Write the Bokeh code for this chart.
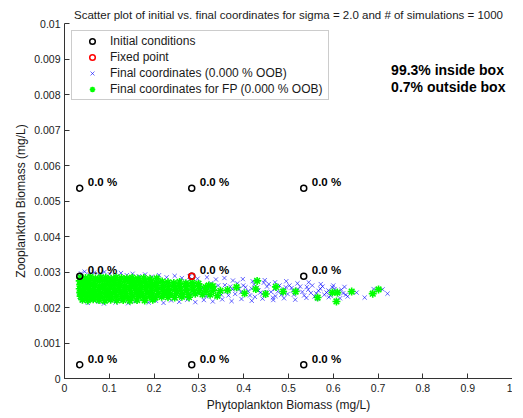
from bokeh.plotting import figure
from bokeh.models import FixedTicker, Legend, LegendItem
from bokeh.core.properties import value
from bokeh.embed import file_html
from bokeh.resources import INLINE

FONT = "Liberation Sans"

title_text = "Scatter plot of initial vs. final coordinates for sigma = 2.0 and # of simulations = 1000"
x_label = "Phytoplankton Biomass (mg/L)"
y_label = "Zooplankton Biomass (mg/L)"

x_ticks = [0, 0.1, 0.2, 0.3, 0.4, 0.5, 0.6, 0.7, 0.8, 0.9, 1]
x_tick_labels = ["0", "0.1", "0.2", "0.3", "0.4", "0.5", "0.6", "0.7", "0.8", "0.9", "1"]
y_ticks = [0, 0.001, 0.002, 0.003, 0.004, 0.005, 0.006, 0.007, 0.008, 0.009, 0.01]
y_tick_labels = ["0", "0.001", "0.002", "0.003", "0.004", "0.005", "0.006", "0.007", "0.008", "0.009", "0.01"]

# initial conditions (3x3 grid of starting points)
init_x = [0.034, 0.284, 0.534, 0.034, 0.284, 0.534, 0.034, 0.284, 0.534]
init_y = [0.00039, 0.00039, 0.00039, 0.00288, 0.00288, 0.00288, 0.00536, 0.00536, 0.00536]
init_pct = ["0.0 %"] * 9

# fixed point
fixed_x = [0.284]
fixed_y = [0.00288]

# final coordinates (blue x)
final_x = [
    0.037, 0.045, 0.055, 0.066, 0.078, 0.089, 0.101, 0.113, 0.126, 0.139, 0.152, 0.166, 0.180, 0.195, 0.211, 0.228,
    0.246, 0.262, 0.279, 0.297, 0.318, 0.338, 0.357, 0.376, 0.398, 0.420, 0.447, 0.470, 0.495, 0.520, 0.545, 0.572,
    0.600, 0.625,
    0.040, 0.052, 0.064, 0.076, 0.088, 0.100, 0.114, 0.128, 0.142, 0.157, 0.172, 0.188, 0.204, 0.221, 0.238, 0.256,
    0.274, 0.292, 0.311, 0.331, 0.352, 0.373, 0.395, 0.418, 0.442, 0.466, 0.490, 0.515, 0.540, 0.565, 0.590, 0.615,
    0.185, 0.198, 0.212, 0.224, 0.236, 0.249, 0.261, 0.273, 0.284, 0.296, 0.305, 0.316, 0.327, 0.336, 0.347, 0.358,
    0.366, 0.375, 0.386, 0.394, 0.404, 0.414, 0.423, 0.433, 0.442, 0.452, 0.461, 0.471, 0.480, 0.489, 0.498, 0.507,
    0.516, 0.526, 0.535, 0.544, 0.553, 0.562, 0.571, 0.580, 0.589, 0.598, 0.607, 0.618, 0.628, 0.640,
    0.652, 0.670, 0.690, 0.710, 0.721, 0.632,
    0.258, 0.270, 0.290, 0.310, 0.330, 0.350, 0.370, 0.390, 0.410, 0.430, 0.450, 0.470, 0.490, 0.510,
    0.034, 0.033, 0.035, 0.034,
    0.283, 0.301, 0.322, 0.343, 0.361, 0.381, 0.399, 0.418, 0.437, 0.456, 0.476, 0.494, 0.512, 0.521, 0.531, 0.541,
    0.550, 0.558, 0.567, 0.576, 0.585, 0.594, 0.603, 0.612, 0.622, 0.502, 0.484, 0.465, 0.445, 0.425,
]
final_y = [
    0.00296, 0.00301, 0.00293, 0.00298, 0.00292, 0.00300, 0.00294, 0.00290, 0.00297, 0.00291, 0.00295, 0.00288, 0.00293, 0.00287, 0.00291, 0.00285,
    0.00289, 0.00283, 0.00287, 0.00281, 0.00285, 0.00279, 0.00283, 0.00276, 0.00280, 0.00274, 0.00277, 0.00271, 0.00274, 0.00268, 0.00271, 0.00266,
    0.00262, 0.00258,
    0.00219, 0.00213, 0.00221, 0.00216, 0.00211, 0.00219, 0.00214, 0.00220, 0.00212, 0.00217, 0.00222, 0.00214, 0.00219, 0.00213, 0.00220, 0.00216,
    0.00222, 0.00215, 0.00221, 0.00217, 0.00223, 0.00218, 0.00224, 0.00219, 0.00225, 0.00221, 0.00226, 0.00222, 0.00227, 0.00224, 0.00229, 0.00226,
    0.00262, 0.00241, 0.00253, 0.00268, 0.00233, 0.00258, 0.00245, 0.00272, 0.00238, 0.00262, 0.00249, 0.00231, 0.00268, 0.00255, 0.00241, 0.00263,
    0.00234, 0.00251, 0.00268, 0.00243, 0.00257, 0.00234, 0.00265, 0.00248, 0.00238, 0.00259, 0.00244, 0.00232, 0.00262, 0.00249, 0.00238, 0.00255,
    0.00243, 0.00259, 0.00234, 0.00250, 0.00262, 0.00240, 0.00253, 0.00236, 0.00248, 0.00257, 0.00241, 0.00250, 0.00236, 0.00246,
    0.00242, 0.00228, 0.00252, 0.00251, 0.00239, 0.00231,
    0.00236, 0.00252, 0.00244, 0.00257, 0.00246, 0.00236, 0.00259, 0.00252, 0.00246, 0.00256, 0.00243, 0.00252, 0.00241, 0.00248,
    0.00262, 0.00243, 0.00228, 0.00279,
    0.00266, 0.00240, 0.00252, 0.00262, 0.00245, 0.00238, 0.00262, 0.00253, 0.00242, 0.00266, 0.00245, 0.00257, 0.00236, 0.00251, 0.00244, 0.00258,
    0.00241, 0.00231, 0.00247, 0.00259, 0.00242, 0.00233, 0.00252, 0.00245, 0.00240, 0.00262, 0.00236, 0.00228, 0.00270, 0.00230,
]

# final coordinates starting from the fixed point (green *)
fp_x = [
    0.036, 0.047, 0.058, 0.069, 0.081, 0.092, 0.104, 0.115, 0.127, 0.139, 0.151, 0.164, 0.177, 0.191, 0.206,
    0.034, 0.045, 0.056, 0.067, 0.078, 0.089, 0.100, 0.111, 0.123, 0.134, 0.146, 0.157, 0.169, 0.181, 0.193, 0.205,
    0.218, 0.231, 0.244, 0.257, 0.271, 0.285, 0.299,
    0.035, 0.046, 0.057, 0.068, 0.079, 0.090, 0.101, 0.112, 0.124, 0.135, 0.147, 0.158, 0.170, 0.182, 0.194, 0.206,
    0.219, 0.232, 0.245, 0.258, 0.272, 0.286, 0.300, 0.315, 0.331,
    0.034, 0.045, 0.056, 0.067, 0.078, 0.089, 0.100, 0.112, 0.123, 0.135, 0.146, 0.158, 0.170, 0.182, 0.194, 0.207,
    0.220, 0.233, 0.246, 0.259, 0.273, 0.287, 0.301, 0.316, 0.332, 0.348,
    0.035, 0.046, 0.057, 0.068, 0.079, 0.091, 0.102, 0.113, 0.125, 0.136, 0.148, 0.160, 0.172, 0.184, 0.196, 0.209,
    0.222, 0.235, 0.249, 0.263, 0.277, 0.292, 0.308, 0.325,
    0.036, 0.047, 0.058, 0.070, 0.081, 0.093, 0.104, 0.116, 0.128, 0.140, 0.152, 0.164, 0.177, 0.190, 0.203, 0.217,
    0.231, 0.246, 0.262, 0.278,
    0.040, 0.052, 0.064, 0.077, 0.090, 0.103, 0.117, 0.131, 0.146, 0.162, 0.179, 0.197,
    0.322, 0.341, 0.364, 0.384, 0.402, 0.427, 0.449, 0.472, 0.488, 0.430,
    0.516, 0.565, 0.598, 0.609, 0.607, 0.641, 0.688, 0.701,
]
fp_y = [
    0.00285, 0.00283, 0.00286, 0.00282, 0.00285, 0.00284, 0.00281, 0.00285, 0.00283, 0.00282, 0.00284, 0.00281, 0.00283, 0.00280, 0.00282,
    0.00275, 0.00273, 0.00276, 0.00272, 0.00274, 0.00276, 0.00273, 0.00275, 0.00272, 0.00274, 0.00276, 0.00273, 0.00271, 0.00274, 0.00272, 0.00270,
    0.00273, 0.00271, 0.00269, 0.00272, 0.00268, 0.00270, 0.00267,
    0.00264, 0.00262, 0.00265, 0.00263, 0.00261, 0.00264, 0.00262, 0.00265, 0.00263, 0.00261, 0.00263, 0.00264, 0.00261, 0.00263, 0.00260, 0.00262,
    0.00261, 0.00259, 0.00262, 0.00260, 0.00258, 0.00261, 0.00259, 0.00257, 0.00260,
    0.00253, 0.00251, 0.00254, 0.00252, 0.00250, 0.00253, 0.00251, 0.00254, 0.00252, 0.00250, 0.00252, 0.00253, 0.00250, 0.00252, 0.00249, 0.00251,
    0.00250, 0.00248, 0.00251, 0.00249, 0.00247, 0.00250, 0.00248, 0.00246, 0.00249, 0.00247,
    0.00242, 0.00240, 0.00243, 0.00241, 0.00239, 0.00242, 0.00240, 0.00243, 0.00241, 0.00239, 0.00241, 0.00242, 0.00239, 0.00241, 0.00238, 0.00240,
    0.00239, 0.00237, 0.00240, 0.00238, 0.00236, 0.00239, 0.00237, 0.00236,
    0.00232, 0.00230, 0.00233, 0.00231, 0.00229, 0.00232, 0.00230, 0.00232, 0.00230, 0.00229, 0.00231, 0.00232, 0.00229, 0.00231, 0.00228, 0.00230,
    0.00229, 0.00228, 0.00230, 0.00229,
    0.00222, 0.00220, 0.00223, 0.00221, 0.00219, 0.00222, 0.00220, 0.00221, 0.00219, 0.00221, 0.00220, 0.00222,
    0.00262, 0.00233, 0.00249, 0.00257, 0.00240, 0.00252, 0.00238, 0.00258, 0.00245, 0.00275,
    0.00245, 0.00228, 0.00242, 0.00242, 0.00217, 0.00245, 0.00239, 0.00251,
]

legend_labels = ["Initial conditions", "Fixed point", "Final coordinates (0.000 % OOB)",
                 "Final coordinates for FP (0.000 % OOB)"]
inside_text = ["99.3% inside box", "0.7% outside box"]
inside_pos_x = [0.729, 0.729]
inside_pos_y = [0.00870, 0.00820]

p = figure(frame_width=448, frame_height=355, output_backend="svg", toolbar_location=None,
           x_range=(0, 1), y_range=(0, 0.01),
           min_border_left=64, min_border_right=0, min_border_top=23, min_border_bottom=31,
           title=title_text)
p.title.align = "center"
p.title.text_font = FONT
p.title.text_font_size = "11.5px"
p.title.text_font_style = "normal"
p.title.text_color = "#1a1a1a"
p.title.standoff = 6
p.outline_line_color = None
p.xgrid.visible = False
p.ygrid.visible = False
p.background_fill_color = "white"

for ax, ticks, labels in ((p.xaxis[0], x_ticks, x_tick_labels), (p.yaxis[0], y_ticks, y_tick_labels)):
    ax.ticker = FixedTicker(ticks=ticks)
    ax.major_label_overrides = {t: l for t, l in zip(ticks, labels)}
    ax.major_tick_in = 5
    ax.major_tick_out = 0
    ax.minor_tick_line_color = None
    ax.axis_line_color = "#333333"
    ax.major_tick_line_color = "#333333"
    ax.major_label_text_font = FONT
    ax.major_label_text_font_size = "10.5px"
    ax.major_label_text_color = "#1a1a1a"
    ax.axis_label_text_font = FONT
    ax.axis_label_text_font_size = "12px"
    ax.axis_label_text_font_style = "normal"
    ax.axis_label_text_color = "#1a1a1a"

p.xaxis.axis_label = x_label
p.yaxis.axis_label = y_label
p.xaxis.major_label_standoff = 5
p.xaxis.axis_label_standoff = 3
p.yaxis.major_label_standoff = 4
p.yaxis.axis_label_standoff = 3

r_final = p.scatter(final_x, final_y, marker="x", size=6, line_color="#0000ff", line_alpha=0.6, line_width=1)
r_fp = p.scatter(fp_x, fp_y, marker="asterisk", size=8, line_color="#00ff00", line_width=1.6)
r_init = p.scatter(init_x, init_y, marker="circle", size=6, fill_color=None, line_color="black", line_width=1.5)
r_fixed = p.scatter(fixed_x, fixed_y, marker="circle", size=6, fill_color=None, line_color="#ff0000", line_width=1.5)

p.text(x=init_x, y=init_y, text=init_pct, x_offset=8, y_offset=-6,
       text_font=value(FONT), text_font_size="11.5px", text_font_style="bold",
       text_baseline="middle", text_align="left", text_color="black")

p.text(x=inside_pos_x, y=inside_pos_y, text=inside_text,
       text_font=value(FONT), text_font_size="14px", text_font_style="bold",
       text_baseline="middle", text_align="left", text_color="black")

legend = Legend(items=[LegendItem(label=legend_labels[0], renderers=[r_init]),
                       LegendItem(label=legend_labels[1], renderers=[r_fixed]),
                       LegendItem(label=legend_labels[2], renderers=[r_final]),
                       LegendItem(label=legend_labels[3], renderers=[r_fp])],
                location="top_left", margin=7, padding=3, spacing=2,
                label_height=14, glyph_height=14, glyph_width=34, label_standoff=1, label_width=215,
                label_text_font=FONT, label_text_font_size="12px", label_text_color="#1a1a1a",
                border_line_color="#999999", border_line_width=1, background_fill_alpha=1)
p.add_layout(legend)

open("out.html", "w").write(file_html(p, INLINE))
